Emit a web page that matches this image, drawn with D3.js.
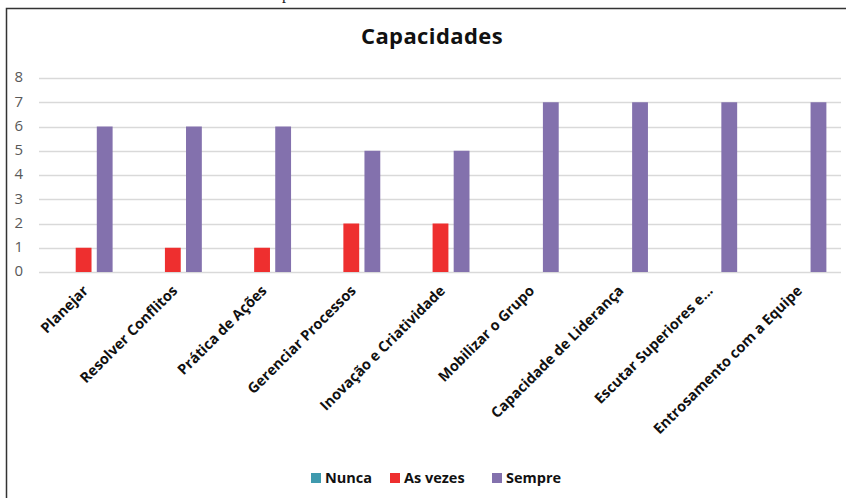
<!DOCTYPE html>
<html>
<head>
<meta charset="utf-8">
<script src="https://cdn.jsdelivr.net/npm/d3@7"></script>
<style>
  body { margin: 0; background: #fff; }
  svg { display: block; }
</style>
</head>
<body>
<div id="chart"></div>
<script>
// Chart data
const categories = [
  'Planejar', 'Resolver Conflitos', 'Prática de Ações', 'Gerenciar Processos',
  'Inovação e Criatividade', 'Mobilizar o Grupo', 'Capacidade de Liderança',
  'Escutar Superiores e...', 'Entrosamento com a Equipe'
];
const seriesNames = ['Nunca', 'As vezes', 'Sempre'];
const nunca = [0, 0, 0, 0, 0, 0, 0, 0, 0];
const asVezes = [1, 1, 1, 2, 2, 0, 0, 0, 0];
const sempre = [6, 6, 6, 5, 5, 7, 7, 7, 7];
const yTicks = [0, 1, 2, 3, 4, 5, 6, 7, 8];
const colors = ['#3f9aae', '#ee2f2f', '#8371ad'];

const width = 846;
const height = 498;
const margin = { top: 78, right: 4, bottom: 226, left: 39 };

const rows = categories.map((c, i) => ({
  name: c,
  values: [nunca[i], asVezes[i], sempre[i]]
}));

const svg = d3.select('#chart').append('svg')
  .attr('width', width)
  .attr('height', height);

// cut-off text from the page above the chart
svg.append('text')
  .attr('x', 282)
  .attr('y', -1)
  .style('font-family', 'Liberation Serif')
  .style('font-size', '16px')
  .attr('fill', '#222')
  .text('p');

// chart frame
svg.append('rect')
  .attr('x', 6.5)
  .attr('y', 8.5)
  .attr('width', 900)
  .attr('height', 600)
  .attr('fill', 'none')
  .attr('stroke', '#333')
  .attr('stroke-width', 1.5);

// Title
svg.append('text')
  .attr('x', 432)
  .attr('y', 44)
  .attr('text-anchor', 'middle')
  .style('font-family', 'Open Sans')
  .style('font-weight', 'bold')
  .style('font-size', '22px')
  .style('letter-spacing', '0.4px')
  .attr('fill', '#111')
  .text('Capacidades');

// Scales
const x0 = d3.scaleBand()
  .domain(categories)
  .range([margin.left, width - margin.right])
  .paddingInner(0.35)
  .paddingOuter(0.175);

const x1 = d3.scaleBand()
  .domain(seriesNames)
  .range([0, x0.bandwidth()])
  .paddingInner(0.25);

const y = d3.scaleLinear()
  .domain([0, 8])
  .range([height - margin.bottom, margin.top]);

// Gridlines
svg.append('g')
  .selectAll('line')
  .data(yTicks)
  .enter().append('line')
  .attr('x1', margin.left)
  .attr('x2', width - margin.right - 1)
  .attr('y1', d => Math.round(y(d)) + 0.5)
  .attr('y2', d => Math.round(y(d)) + 0.5)
  .attr('stroke', '#d9d9d9')
  .attr('stroke-width', 1.5);

// Y axis labels
const yAxis = svg.append('g')
  .attr('transform', `translate(${margin.left}, 0)`)
  .call(d3.axisLeft(y).tickValues(yTicks).tickSize(0).tickPadding(16));
yAxis.select('.domain').remove();
yAxis.selectAll('text')
  .attr('dy', '0.25em')
  .style('font-family', 'Open Sans')
  .style('font-size', '15px')
  .attr('fill', '#595959');

// Bars
const groups = svg.selectAll('.group')
  .data(rows)
  .enter().append('g')
  .attr('class', 'group')
  .attr('transform', d => `translate(${x0(d.name)}, 0)`);

groups.selectAll('rect')
  .data(d => d.values.map((v, i) => ({ key: seriesNames[i], value: v, i: i })))
  .enter().append('rect')
  .attr('x', d => x1(d.key))
  .attr('y', d => y(d.value))
  .attr('width', x1.bandwidth())
  .attr('height', d => y(0) - y(d.value))
  .attr('fill', d => colors[d.i]);

// X axis labels
const xAxis = svg.append('g')
  .attr('transform', `translate(0, ${y(0)})`)
  .call(d3.axisBottom(x0).tickSize(0).tickPadding(0));
xAxis.select('.domain').remove();
xAxis.selectAll('text')
  .attr('text-anchor', 'end')
  .attr('transform', 'translate(2, 16) rotate(-45)')
  .attr('dy', '0.35em')
  .style('font-family', 'Open Sans')
  .style('font-weight', 'bold')
  .style('font-size', '14.5px')
  .attr('fill', '#111');

// Legend
const legendX = [311, 390, 492];
const legend = svg.append('g');
seriesNames.forEach((name, i) => {
  legend.append('rect')
    .attr('x', legendX[i])
    .attr('y', 473)
    .attr('width', 10)
    .attr('height', 10)
    .attr('fill', colors[i]);
  legend.append('text')
    .attr('x', legendX[i] + 14)
    .attr('y', 483)
    .style('font-family', 'Open Sans')
    .style('font-weight', 'bold')
    .style('font-size', '14.5px')
    .attr('fill', '#111')
    .text(name);
});
</script>
</body>
</html>
